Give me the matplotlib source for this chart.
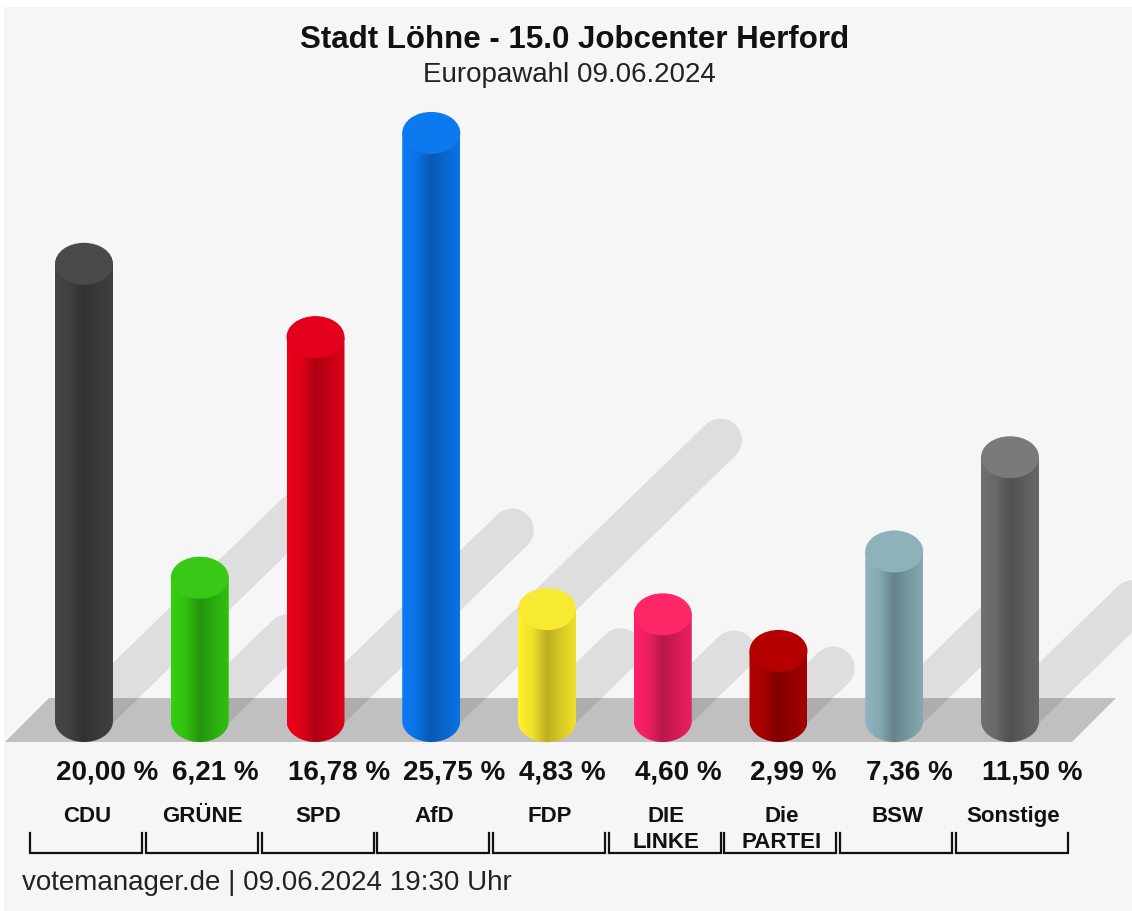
import numpy as np
import matplotlib.pyplot as plt
from matplotlib.patches import Ellipse, Polygon, Rectangle
from matplotlib.colors import LinearSegmentedColormap, to_rgb

plt.rcParams['font.family'] = ['Liberation Sans', 'DejaVu Sans']

parties = ['CDU', 'GRÜNE', 'SPD', 'AfD', 'FDP', 'DIE\nLINKE', 'Die\nPARTEI', 'BSW', 'Sonstige']
values = [20.00, 6.21, 16.78, 25.75, 4.83, 4.60, 2.99, 7.36, 11.50]
labels = ['20,00 %', '6,21 %', '16,78 %', '25,75 %', '4,83 %', '4,60 %', '2,99 %', '7,36 %', '11,50 %']
colors = ['#404040', '#30c010', '#dc0018', '#0a72e4', '#f0e02a', '#ec1f60', '#a40000', '#84a8b0', '#686868']
caps = ['#4a4a4a', '#38c816', '#e4001c', '#0c7aee', '#f8ea32', '#ff2668', '#b40000', '#8eb2ba', '#7a7a7a']

title = 'Stadt Löhne - 15.0 Jobcenter Herford'
subtitle = 'Europawahl 09.06.2024'
footer = 'votemanager.de | 09.06.2024 19:30 Uhr'

fig = plt.figure(figsize=(11.32, 9.11), dpi=100, facecolor='white')
ax = fig.add_axes([0, 0, 1, 1])
ax.patch.set_visible(False)
# light grey panel with a thin white margin top/left
ax.add_patch(Rectangle((4 / 1132, 0), 1, 1 - 7 / 911, transform=fig.transFigure,
                       facecolor='#f6f6f6', edgecolor='none', zorder=0))

# pixel -> data scale
px_x = 115.75   # px per category
px_y = 22.76    # px per percent
x0 = -84 / px_x
ax.set_xlim(x0, x0 + 1132 / px_x)
ax.set_ylim(-(911 - 698) / px_y, 698 / px_y)

n = len(values)
xs = np.arange(n)
hw = 29 / px_x          # half bar width
eh = 42 / px_y          # ellipse height
floor_bot = -44 / px_y
yb = floor_bot + eh / 2

# floor
sl = 44 / px_x
floor = Polygon([(x0 + 5 / px_x, floor_bot), (x0 + 1072 / px_x, floor_bot),
                 (x0 + 1072 / px_x + sl, 0), (x0 + 5 / px_x + sl, 0)],
                closed=True, facecolor='#c0c0c0', edgecolor='none', zorder=1)
ax.add_patch(floor)

# shadows
k = 0.44
for x, v in zip(xs, values):
    dy = k * v - yb
    dx = 1.03 * dy * px_y / px_x
    ax.plot([x, x + dx], [yb, yb + dy], color='black', alpha=0.095, lw=31,
            solid_capstyle='round', zorder=2)

# cylinders
for x, v, c, cc in zip(xs, values, colors, caps):
    yt = v - eh / 2
    base = np.array(to_rgb(c))
    cmap = LinearSegmentedColormap.from_list(
        'g', [np.clip(base * 1.08, 0, 1), base, base * 0.78, base * 0.9, base])
    t = np.linspace(np.pi, 2 * np.pi, 40)
    pts = list(zip(x + hw * np.cos(t), yb + eh / 2 * np.sin(t)))
    pts += [(x + hw, yt), (x - hw, yt)]
    body = Polygon(pts, closed=True, facecolor='none', edgecolor='none')
    ax.add_patch(body)
    grad = np.linspace(0, 1, 100).reshape(1, -1)
    im = ax.imshow(grad, cmap=cmap, extent=[x - hw, x + hw, floor_bot, yt],
                   aspect='auto', zorder=3, interpolation='bilinear')
    im.set_clip_path(body)
    ax.add_patch(Ellipse((x, yt), 2 * hw, eh, facecolor=cc, edgecolor='none', zorder=4))

# value labels and party names
for x, lab, p in zip(xs, labels, parties):
    ax.text(x - hw + 1 / px_x, -75 / px_y, lab, ha='left', va='center',
            fontsize=20, fontweight='bold', color='#111111')
    ax.text(x + 3 / px_x, -108 / px_y, p, ha='center', va='top',
            fontsize=16, fontweight='bold', color='#111111', linespacing=1.3)
    bw = 56 / px_x
    cx = x + 2 / px_x
    ax.plot([cx - bw, cx - bw, cx + bw, cx + bw],
            [-135 / px_y, -155 / px_y, -155 / px_y, -135 / px_y],
            color='#111111', lw=1.6, solid_joinstyle='miter')

ax.axis('off')

fig.text(575 / 1132, 1 - 40 / 911, title, ha='center', va='center',
         fontsize=22.5, fontweight='bold', color='#111111')
fig.text(569 / 1132, 1 - 75 / 911, subtitle, ha='center', va='center',
         fontsize=20, color='#222222')
fig.text(22 / 1132, 1 - 883 / 911, footer, ha='left', va='center',
         fontsize=20, color='#222222')

fig.savefig('out.png', dpi=100, facecolor=fig.get_facecolor())
